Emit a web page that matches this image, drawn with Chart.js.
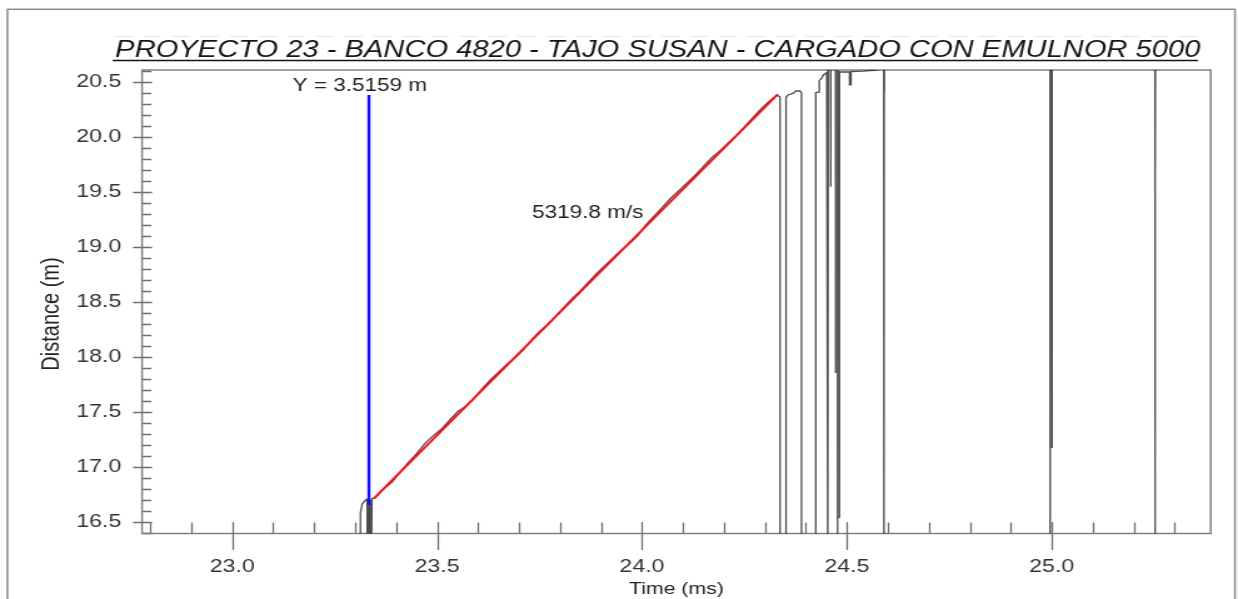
<!DOCTYPE html>
<html>
<head>
<meta charset="utf-8">
<title>Proyecto 23 - Banco 4820</title>
<script src="https://cdn.jsdelivr.net/npm/chart.js@4.4.1/dist/chart.umd.min.js"></script>
<style>
  html, body { margin: 0; padding: 0; background: #fff; overflow: hidden; }
  /* the source graph is stretched wide, so the canvas is drawn narrow and scaled up */
  #vod { display: block; width: 1238px !important; height: 599px !important; }
</style>
</head>
<body>
<canvas id="vod" width="990" height="599" style="width:1238px;height:599px"></canvas>
<script>
(function () {
  'use strict';

  var FONT = "'Liberation Sans', Arial, sans-serif";

  // --- Data ---
  var TITLE = 'PROYECTO 23 - BANCO 4820 - TAJO SUSAN - CARGADO CON EMULNOR 5000';
  var X_LABEL = 'Time (ms)';
  var Y_LABEL = 'Distance (m)';
  var X_MIN = 22.78, X_MAX = 25.388;
  var Y_MIN = 16.393, Y_MAX = 20.606;
  var X_TICKS = [23.0, 23.5, 24.0, 24.5, 25.0];
  var Y_TICKS = [16.5, 17.0, 17.5, 18.0, 18.5, 19.0, 19.5, 20.0, 20.5];

  // raw probe trace (values below/above the axes are clipped off)
  var TRACE_T = [
    23.300, 23.3125, 23.3129, 23.3170, 23.3251, 23.3292, 23.3300, 23.3318, 23.3330, 23.3350,
    23.3365, 23.3380, 23.3395, 23.3410, 23.3450,
    23.35, 23.37, 23.39, 23.41, 23.43, 23.45, 23.47, 23.49, 23.51, 23.53,
    23.55, 23.57, 23.59, 23.61, 23.63, 23.65, 23.67, 23.69, 23.71, 23.73,
    23.75, 23.77, 23.79, 23.81, 23.83, 23.85, 23.87, 23.89, 23.91, 23.93,
    23.95, 23.97, 23.99, 24.01, 24.03, 24.05, 24.07, 24.09, 24.11, 24.13,
    24.15, 24.17, 24.19, 24.21, 24.23, 24.25, 24.27, 24.29, 24.31,
    24.3302, 24.3327, 24.3368, 24.3368, 24.3515, 24.3515, 24.3563, 24.3685, 24.3759, 24.3856,
    24.3893, 24.3893, 24.4240, 24.4240, 24.4327, 24.4327, 24.4386, 24.4425, 24.4508, 24.4533,
    24.4533, 24.4545, 24.4601, 24.4601, 24.4610, 24.4723, 24.4723, 24.4730, 24.4772, 24.4772,
    24.4780, 24.4816, 24.4816, 24.4822, 24.5065, 24.5065, 24.5101, 24.5101, 24.5400, 24.5728,
    24.5900, 24.5905, 24.5910, 24.5912, 24.5916, 24.9960, 24.9960, 24.9972, 25.0004, 25.0004,
    25.0010, 25.2518, 25.2518, 25.2526, 25.2526, 25.2532, 25.3880
  ];
  var TRACE_D = [
    16.00, 16.00, 16.58, 16.66, 16.697, 16.705, 16.00, 16.70, 16.00, 16.69,
    16.00, 16.70, 16.00, 16.71, 16.71,
    16.72, 16.80, 16.86, 16.95, 17.04, 17.12, 17.21, 17.28, 17.34, 17.42,
    17.50, 17.55, 17.62, 17.71, 17.79, 17.86, 17.93, 17.99, 18.06, 18.15,
    18.23, 18.29, 18.37, 18.45, 18.53, 18.60, 18.68, 18.76, 18.83, 18.90,
    18.97, 19.03, 19.10, 19.20, 19.28, 19.36, 19.44, 19.51, 19.58, 19.65,
    19.73, 19.81, 19.87, 19.94, 20.01, 20.09, 20.17, 20.25, 20.32,
    20.38, 20.37, 20.36, 16.00, 16.00, 20.358, 20.379, 20.393, 20.415, 20.415,
    20.397, 16.00, 16.00, 20.400, 20.406, 20.509, 20.531, 20.561, 20.582, 20.600,
    16.00, 20.62, 20.62, 19.545, 20.62, 20.62, 17.852, 20.62, 20.62, 16.00,
    20.59, 20.59, 16.531, 20.59, 20.588, 20.470, 20.470, 20.592, 20.596, 20.604,
    20.62, 16.00, 21.00, 20.40, 21.00, 21.00, 16.00, 21.00, 21.00, 17.170,
    21.00, 21.00, 16.00, 21.00, 19.606, 21.00, 21.00
  ];

  // least-squares fit drawn in red
  var FIT_T = [23.3459, 24.3312];
  var FIT_D = [16.713, 20.385];
  var FIT_LABEL = '5319.8 m/s';

  // cursor drawn in blue
  var CURSOR_T = [23.3337, 23.3337];
  var CURSOR_D = [16.652, 20.378];
  var CURSOR_LABEL = 'Y = 3.5159 m';

  function toPoints(xs, ys) {
    return xs.map(function (x, i) { return { x: x, y: ys[i] }; });
  }

  function inRange(v, lo, hi) { return v >= lo - 1e-9 && v <= hi + 1e-9; }

  // --- Frame, tick marks and texts ---
  var decorPlugin = {
    id: 'decor',
    beforeDatasetsDraw: function (chart) {
      var ctx = chart.ctx, a = chart.chartArea;
      var xs = chart.scales.x, ys = chart.scales.y;
      var i, p;
      ctx.save();
      ctx.strokeStyle = '#6e6e6e';
      ctx.lineWidth = 1.3;

      // minor ticks every 0.1, pointing inward
      ctx.beginPath();
      for (i = Math.ceil(X_MIN * 10); i <= Math.floor(X_MAX * 10); i++) {
        p = Math.round(xs.getPixelForValue(i / 10)) + 0.5;
        ctx.moveTo(p, a.bottom);
        ctx.lineTo(p, a.bottom - 11);
      }
      for (i = Math.ceil(Y_MIN * 10); i <= Math.floor(Y_MAX * 10); i++) {
        p = Math.round(ys.getPixelForValue(i / 10)) + 0.5;
        ctx.moveTo(a.left, p);
        ctx.lineTo(a.left + 7.5, p);
      }
      // major ticks crossing the axis
      X_TICKS.forEach(function (t) {
        if (!inRange(t, X_MIN, X_MAX)) return;
        p = Math.round(xs.getPixelForValue(t)) + 0.5;
        ctx.moveTo(p, a.bottom - 11.5);
        ctx.lineTo(p, a.bottom + 16.5);
      });
      Y_TICKS.forEach(function (d) {
        if (!inRange(d, Y_MIN, Y_MAX)) return;
        p = Math.round(ys.getPixelForValue(d)) + 0.5;
        ctx.moveTo(a.left - 7.2, p);
        ctx.lineTo(a.left + 8, p);
      });
      ctx.stroke();

      ctx.strokeStyle = '#7a7a7a';
      ctx.lineWidth = 1.4;
      ctx.strokeRect(a.left, a.top, a.right - a.left, a.bottom - a.top);
      ctx.restore();
    },
    afterDraw: function (chart) {
      var ctx = chart.ctx, a = chart.chartArea;
      var xs = chart.scales.x;
      ctx.save();

      // outer border of the printed graph
      ctx.strokeStyle = '#8a8a8a';
      ctx.lineWidth = 1.5;
      ctx.strokeRect(5.9, 9.3, 981.7, 620);

      // faint scan line above the title
      ctx.strokeStyle = 'rgba(0,0,0,0.10)';
      ctx.lineWidth = 1;
      ctx.setLineDash([14, 9]);
      ctx.beginPath();
      ctx.moveTo(92, 36.5);
      ctx.lineTo(960, 36.5);
      ctx.stroke();
      ctx.setLineDash([]);

      // title, italic and underlined
      ctx.fillStyle = '#141414';
      ctx.font = 'italic 23.3px ' + FONT;
      ctx.textAlign = 'center';
      ctx.textBaseline = 'alphabetic';
      var tw = ctx.measureText(TITLE).width;
      var tx = 526;
      ctx.fillText(TITLE, tx, 57.3);
      ctx.strokeStyle = '#141414';
      ctx.lineWidth = 1.7;
      ctx.beginPath();
      ctx.moveTo(tx - tw / 2 - 2, 60.5);
      ctx.lineTo(tx + tw / 2 - 2, 60.5);
      ctx.stroke();

      // axis titles
      ctx.fillStyle = '#222';
      ctx.font = '17px ' + FONT;
      ctx.textBaseline = 'middle';
      ctx.fillText(X_LABEL, (a.left + a.right) / 2, 589);
      ctx.save();
      ctx.translate(41.6, 314);
      ctx.rotate(-Math.PI / 2);
      ctx.font = '20px ' + FONT;
      ctx.fillText(Y_LABEL, 0, 0);
      ctx.restore();

      // annotations
      ctx.font = '18px ' + FONT;
      ctx.textBaseline = 'alphabetic';
      ctx.fillStyle = '#222';
      ctx.fillText(CURSOR_LABEL, xs.getPixelForValue(CURSOR_T[0]) - 7.3, 90.7);
      ctx.fillText(FIT_LABEL, xs.getPixelForValue(23.8676), 218);
      ctx.restore();
    }
  };

  var tickFont = { family: FONT, size: 18.5 };

  new Chart(document.getElementById('vod'), {
    type: 'line',
    data: {
      datasets: [
        {
          label: 'Cursor',
          data: toPoints(CURSOR_T, CURSOR_D),
          borderColor: '#1010ff',
          borderWidth: 2.4,
          pointRadius: 0,
          clip: 0,
          order: 1
        },
        {
          label: 'Fit',
          data: toPoints(FIT_T, FIT_D),
          borderColor: '#ff1010',
          borderWidth: 2,
          pointRadius: 0,
          clip: 0,
          order: 2
        },
        {
          label: 'Trace',
          data: toPoints(TRACE_T, TRACE_D),
          borderColor: 'rgba(0, 0, 0, 0.7)',
          borderWidth: 1.3,
          pointRadius: 0,
          tension: 0,
          clip: 0,
          order: 3
        }
      ]
    },
    options: {
      responsive: false,
      devicePixelRatio: 1,
      animation: false,
      events: [],
      layout: { padding: { left: 0, right: 21.8, top: 70, bottom: 0 } },
      plugins: {
        legend: { display: false },
        tooltip: { enabled: false }
      },
      scales: {
        x: {
          type: 'linear',
          min: X_MIN,
          max: X_MAX,
          afterBuildTicks: function (s) {
            s.ticks = X_TICKS.map(function (v) { return { value: v }; });
          },
          afterFit: function (s) { s.height = 65.5; },
          ticks: {
            autoSkip: false,
            maxRotation: 0,
            padding: 22,
            font: tickFont,
            color: '#333',
            callback: function (v) { return Number(v).toFixed(1); }
          },
          grid: { display: false, drawTicks: false },
          border: { display: false }
        },
        y: {
          type: 'linear',
          min: Y_MIN,
          max: Y_MAX,
          afterBuildTicks: function (s) {
            s.ticks = Y_TICKS.map(function (v) { return { value: v }; });
          },
          afterFit: function (s) { s.width = 113.6; },
          ticks: {
            padding: 16.6,
            font: tickFont,
            color: '#333',
            callback: function (v) { return Number(v).toFixed(1); }
          },
          grid: { display: false, drawTicks: false },
          border: { display: false }
        }
      }
    },
    plugins: [decorPlugin]
  });
})();
</script>
</body>
</html>
